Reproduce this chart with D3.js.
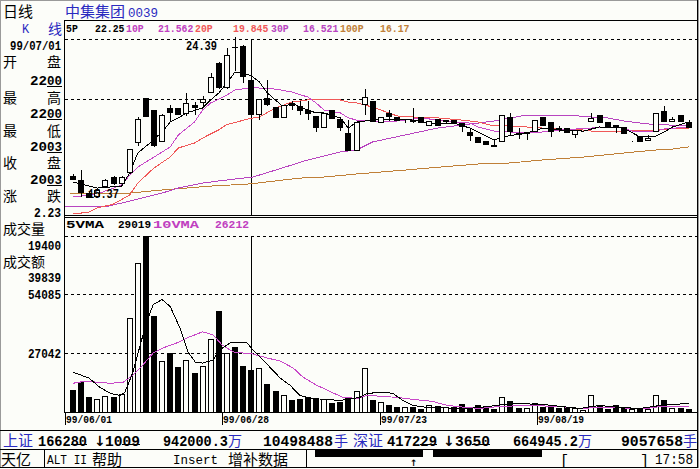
<!DOCTYPE html>
<html><head><meta charset="utf-8">
<script src="https://cdn.jsdelivr.net/npm/d3@7"></script>
<style>
html,body{margin:0;padding:0;background:#fcfdf9;}
svg{display:block;}
</style></head>
<body><svg id="c" width="700" height="469"></svg>
<script>
// ---------------- DATA ----------------
const opens  = [16.61,16.38,15.65,15.45,15.99,16.55,16.16,16.78,18.46,20.99,20.31,18.52,20.43,20.43,20.09,20.60,20.71,21.27,22.96,21.55,23.85,23.91,22.00,20.03,20.99,20.48,19.87,20.70,20.54,20.31,19.98,19.30,20.31,19.81,19.02,18.01,20.60,20.82,19.58,20.15,19.92,19.62,19.75,19.92,19.42,19.81,19.65,19.75,19.58,19.08,18.80,18.57,18.35,18.52,19.92,19.02,18.97,19.08,19.92,19.64,19.30,19.30,18.91,19.13,19.64,20.03,19.64,19.47,19.36,18.57,18.85,18.57,19.08,20.26,19.64,20.03,19.64];
const highs  = [16.70,16.94,15.70,15.90,16.45,16.60,16.60,18.12,19.90,20.99,20.31,20.10,20.60,20.43,21.27,20.76,21.10,22.40,23.00,23.80,24.39,23.95,22.00,20.93,22.00,20.48,20.60,20.80,20.80,20.80,19.98,20.15,20.31,19.81,19.75,19.64,21.50,20.82,19.92,20.30,19.92,19.75,20.40,19.92,19.70,19.81,19.75,19.75,19.58,19.30,18.80,18.57,18.63,20.03,20.15,19.30,19.08,19.75,19.92,19.64,19.42,19.30,19.19,19.14,20.15,20.03,19.64,19.47,19.36,18.57,18.85,18.91,20.15,20.54,19.92,20.03,19.75];
const lows   = [16.38,15.43,15.37,15.40,15.95,16.10,16.10,16.70,18.29,19.92,18.24,18.52,19.64,20.03,20.00,20.03,20.48,21.27,21.50,21.50,22.50,21.85,20.03,19.75,20.55,19.87,19.87,20.30,20.06,19.75,19.08,19.30,19.81,19.13,18.01,18.01,20.03,19.64,19.58,19.70,19.70,19.60,19.60,19.58,19.42,19.42,19.60,19.58,19.10,18.55,18.46,18.35,18.24,18.52,18.91,18.69,18.63,19.08,19.42,18.80,19.08,19.02,18.74,19.13,19.64,19.58,19.30,19.02,18.97,18.57,18.52,18.57,19.08,19.64,19.64,19.64,19.30];
const closes = [16.38,15.65,15.37,15.80,16.38,16.16,16.55,18.12,19.81,19.92,18.29,20.03,20.15,20.03,20.71,20.43,20.93,22.17,21.55,23.40,23.80,22.17,20.03,20.93,20.60,19.87,20.60,20.54,20.26,20.09,19.30,20.15,19.81,19.30,18.01,19.64,21.04,19.64,19.92,19.92,19.70,19.70,19.64,19.58,19.70,19.42,19.75,19.58,19.36,18.85,18.46,18.35,18.24,20.03,19.08,18.91,19.08,19.75,19.42,19.08,19.19,19.02,19.19,19.14,19.87,19.58,19.30,19.36,18.97,18.57,18.52,18.74,20.15,19.64,19.81,19.64,19.30];
const volumes = [10020,13660,6670,5600,6990,6670,8250,43200,68850,81127,44290,23310,26900,20650,23780,17860,20980,33570,46620,27200,29840,20980,19400,20050,12590,9320,7460,5130,5590,6530,6060,5590,3730,4200,6530,9320,20050,5130,4200,2800,1860,1860,1860,930,2800,2330,1860,1860,3260,1860,2800,1860,930,6530,4660,1400,1400,3730,1860,2330,1400,1860,1400,470,7460,2800,930,2800,1860,930,930,930,7460,5130,1400,1400,930];

// moving averages: [candle index, value]
const ma5 = [[0,16.27],[3,15.93],[6,16.04],[7,16.78],[8,17.90],[9.5,18.46],[11,19.08],[12,19.64],[13,19.87],[14,20.15],[16,20.43],[17,20.88],[18,21.27],[19,21.83],[20,22.45],[22,22.25],[23,21.89],[24,21.27],[26,20.48],[27,20.71],[28,20.48],[30,20.15],[31,20.15],[33,19.87],[34,19.30],[35,19.64],[37,19.75],[39,19.81],[42,19.75],[44,19.58],[47,19.58],[49,19.30],[50,19.08],[52,18.63],[53,18.80],[56,19.02],[58,19.30],[60,19.19],[63,19.13],[65,19.36],[68,19.30],[70,18.80],[72,18.85],[73,19.08],[74,19.36],[76,19.64]];
const ma10 = [[0,15.43],[3,15.60],[5,15.93],[6,16.10],[7,16.66],[8,17.11],[10,17.67],[12,18.24],[13,18.91],[15,19.64],[16,20.31],[17,20.71],[19,21.16],[20,21.44],[22,21.56],[23,21.55],[25,21.49],[27,21.33],[29,21.04],[30,20.71],[31,20.31],[33,20.15],[34,19.87],[35,19.75],[37,19.70],[39,19.64],[41,19.75],[43,19.87],[45,19.75],[47,19.64],[49,19.58],[50,19.36],[52,19.13],[54,19.08],[56,19.02],[58,19.08],[60,19.19],[64,19.30],[66,19.36],[68,19.30],[69,19.13],[72,19.13],[73,19.25],[76,19.36]];
const ma20 = [[0,14.47],[2,14.58],[3,14.81],[5,15.03],[7,15.54],[8,16.21],[10,17.06],[12,17.67],[13,18.18],[15,18.46],[16,18.74],[18,19.20],[19,19.50],[22,19.85],[23,19.92],[25,20.43],[27,20.76],[29,20.88],[33,20.88],[34,20.76],[35,20.71],[37,20.48],[39,20.15],[40,19.98],[42,19.92],[45,19.87],[48,19.75],[50,19.64],[52,19.42],[54,19.42],[56,19.36],[58,19.30],[60,19.25],[63,19.19],[64,19.13],[68,19.13],[70,19.19],[72,19.19],[75,19.30],[76,19.30]];
const ma30 = [[-1,14.87],[4,14.87],[6,15.09],[8,15.31],[11,15.65],[13,15.93],[16,16.21],[18,16.33],[21,16.49],[22,16.52],[25,16.94],[29,17.51],[33,17.96],[35,18.07],[37,18.52],[41,18.91],[45,19.30],[48,19.47],[50,19.58],[52,19.70],[56,20.03],[61,20.03],[64,19.92],[66,19.87],[68,19.70],[71,19.53],[76,19.42]];
const ma100 = [[-0.4,15.60],[7,15.65],[11,15.82],[14,15.93],[17,16.04],[21,16.14],[22,16.17],[25,16.33],[28,16.49],[31,16.55],[35,16.72],[38,16.83],[41,16.94],[44,17.06],[47,17.17],[50,17.28],[54,17.34],[58,17.51],[63,17.67],[68,17.90],[72,18.07],[74,18.12],[76,18.24]];
const vma5 = [[0,18180],[2,15390],[3.3,11190],[4.6,8390],[5.8,7460],[6.4,8860],[7.4,18180],[8.3,30770],[9.1,41490],[9.9,49420],[11,51750],[12,48490],[13.2,38690],[14.2,27510],[15.1,22840],[16,22380],[17.3,23780],[18.1,28440],[19.4,31700],[21.5,31700],[22.2,28440],[23.1,25170],[24.3,20510],[25.6,15380],[26.8,12120],[28,7460],[29.3,6060],[33,5130],[35.4,6530],[36.3,8390],[38.3,8860],[39.5,8390],[40.7,5130],[42,2800],[43.7,1860],[48.6,1400],[50.2,1860],[53.3,3260],[54.3,3730],[58,3260],[61.4,1860],[62.6,1400],[65,2800],[67.5,1860],[70,1400],[72.5,2800],[76,3730]];
const vma10 = [[0,13050],[1.5,13990],[4.6,13050],[6.2,13520],[7.4,16780],[8.6,21450],[9.9,27040],[11.1,29370],[12.8,31700],[14.4,34500],[16,36830],[17.3,35430],[18.4,30770],[19.8,27510],[22.2,26570],[24,24710],[25.6,23310],[27.2,20050],[28.4,15850],[30.1,12120],[31.7,9320],[33.3,6530],[35.1,6060],[36.3,7460],[40,6530],[42,5590],[44.4,4660],[46.2,2800],[48.6,1860],[50.2,1400],[52.7,2330],[56,2800],[60.1,2330],[62.6,1400],[65,1860],[70.9,1400],[72.5,2330],[76,2330]];

const priceGrid = [24.30, 20.93];
const volGrid = [81127, 54085, 27042];
const volGridLabels = ["54085", "27042"];
const dateTickIdx = [0, 19, 38, 57];
const dateTickLabels = ["99/06/01", "99/06/28", "99/07/23", "99/08/19"];
const cursorIdx = 22;
const legendP = [["5P","22.25","#000"],["10P","21.562","#c040c0"],["20P","19.845","#f05858"],["30P","16.521","#b844c0"],["100P","16.17","#c08038"]];

// ---------------- DRAW ----------------
const W=700,H=469,BG="#fcfdf9";
const svg=d3.select("#c");
svg.append("rect").attr("width",W).attr("height",H).attr("fill",BG);
const MONO="'Liberation Mono','DejaVu Sans Mono',monospace";
const CJK="'Noto Sans CJK SC','Noto Sans',sans-serif";
function txt(x,y,s,o={}){
  const t=svg.append("text").attr("x",x).attr("y",y).text(s)
    .attr("font-family",o.f||MONO).attr("font-size",o.s||12)
    .attr("font-weight",o.w||"bold").attr("fill",o.c||"#000")
    .attr("text-anchor",o.a||"start");
  if(o.len){t.attr("textLength",o.len).attr("lengthAdjust","spacingAndGlyphs");}
  return t;
}
function hline(x1,x2,y,c="#000",dash=null){
  const l=svg.append("line").attr("x1",x1).attr("x2",x2).attr("y1",y+0.5).attr("y2",y+0.5)
   .attr("stroke",c).attr("stroke-width",1).attr("shape-rendering","crispEdges");
  if(dash) l.attr("stroke-dasharray",dash);
  return l;
}
function vline(x,y1,y2,c="#000"){
  return svg.append("line").attr("x1",x+0.5).attr("x2",x+0.5).attr("y1",y1).attr("y2",y2)
   .attr("stroke",c).attr("stroke-width",1).attr("shape-rendering","crispEdges");
}

const x = d3.scaleLinear().domain([0,76]).range([73,688.6]);
const yP = d3.scaleLinear().domain([14.416,25.315]).range([215,21]);
const yV = d3.scaleLinear().domain([0,81127]).range([411.5,236]);
const dateX = d3.scaleLinear().domain([0,57]).range([65,537]);

// frame
svg.append("rect").attr("x",0.5).attr("y",0.5).attr("width",698).attr("height",467)
  .attr("fill","none").attr("stroke","#9a9a9a").attr("shape-rendering","crispEdges");
vline(697,0,468);
hline(64,697,20);
vline(64,20,412);
hline(64,697,215); hline(64,697,217);
hline(64,697,412);
hline(0,697,430);
hline(0,697,449);
hline(0,697,467);
vline(44,449,467); vline(306,449,467);

// clip paths
const defs=svg.append("defs");
defs.append("clipPath").attr("id","cp").append("rect").attr("x",65).attr("y",21).attr("width",632).attr("height",194);
defs.append("clipPath").attr("id","cv").append("rect").attr("x",65).attr("y",218).attr("width",632).attr("height",194);

// grids
priceGrid.forEach(p=>hline(65,697,Math.round(yP(p)),"#000","3,3"));
volGrid.forEach(v=>hline(65,697,Math.round(yV(v)),"#000","3,3"));

// cursor
const cx=Math.round(x(cursorIdx));
vline(cx, Math.round(yP(priceGrid[0])), 215);
vline(cx, Math.round(yV(volGrid[0])), 412);

// MA lines
const gP=svg.append("g").attr("clip-path","url(#cp)");
const lineP=d3.line().x(d=>x(d[0])).y(d=>yP(d[1]));
[[ma100,"#c08038"],[ma30,"#b844c0"],[ma20,"#f05858"],[ma10,"#c848c8"],[ma5,"#000"]].forEach(([d,c])=>{
  gP.append("path").attr("d",lineP(d)).attr("fill","none").attr("stroke",c).attr("stroke-width",1)
   .attr("shape-rendering","crispEdges");
});

// candles
const cg=svg.append("g").attr("shape-rendering","crispEdges");
d3.range(opens.length).forEach(i=>{
  const o=opens[i],h=highs[i],l=lows[i],c=closes[i];
  const L=Math.round(x(i))-3;
  const up=c>=o;
  const top=Math.round(yP(Math.max(o,c))), bot=Math.round(yP(Math.min(o,c)));
  const yh=Math.round(yP(h)), yl=Math.round(yP(l));
  cg.append("rect").attr("x",L+3).attr("y",yh).attr("width",1).attr("height",Math.max(1,yl-yh)).attr("fill","#000");
  if(up){
    cg.append("rect").attr("x",L+0.5).attr("y",top+0.5).attr("width",5).attr("height",Math.max(0,bot-top-1))
      .attr("fill",BG).attr("stroke","#000");
  } else {
    cg.append("rect").attr("x",L).attr("y",top).attr("width",6).attr("height",Math.max(1,bot-top)).attr("fill","#000");
  }
});

// price labels at extremes
txt(217,50,"24.39",{a:"end",len:31,s:12});
txt(88,198,"15.37",{len:31,s:12});

// volume bars
const vg=svg.append("g").attr("shape-rendering","crispEdges");
volumes.forEach((v,i)=>{
  const L=Math.round(x(i))-3;
  const top=Math.round(yV(v));
  const up=closes[i]>=opens[i];
  if(up){
    vg.append("rect").attr("x",L+0.5).attr("y",top+0.5).attr("width",5).attr("height",Math.max(0,412-top-0.5))
      .attr("fill",BG).attr("stroke","#000");
  } else {
    vg.append("rect").attr("x",L).attr("y",top).attr("width",6).attr("height",412-top).attr("fill","#000");
  }
});
const gV=svg.append("g").attr("clip-path","url(#cv)");
const lineV=d3.line().x(d=>x(d[0])).y(d=>yV(d[1]));
gV.append("path").attr("d",lineV(vma10)).attr("fill","none").attr("stroke","#c848c8").attr("shape-rendering","crispEdges");
gV.append("path").attr("d",lineV(vma5)).attr("fill","none").attr("stroke","#000").attr("shape-rendering","crispEdges");

// date axis
dateTickIdx.forEach((d,k)=>{
  const xx=Math.round(dateX(d));
  vline(xx,412,425);
  txt(xx+1,423,dateTickLabels[k],{s:11,len:46});
});

// legend price
const lpos=[[66,95],[126,158],[195,233],[271,303],[340,380]];
legendP.forEach((d,k)=>{
  txt(lpos[k][0],32,d[0],{c:d[2],s:11,len:d[0].length*5.9});
  txt(lpos[k][1],32,d[1],{c:d[2],s:11,len:d[1].length*5.9});
});
// legend volume
txt(66,228,"5VMA",{s:11,len:38});
txt(118,228,"29019",{s:11,len:33});
txt(153,228,"10VMA",{s:11,len:46,c:"#c040c0"});
txt(215,228,"26212",{s:11,len:34,c:"#c040c0"});

// header
txt(3,17,"日线",{f:CJK,s:15,w:"normal"});
txt(65,17,"中集集团",{f:CJK,s:15,w:"normal",c:"#2a2ac0"});
txt(128,17,"0039",{s:13,w:"normal",c:"#2a2ac0",len:30});
txt(22,33,"K",{s:12,w:"normal",c:"#2a2ac0"});
txt(48,34,"线",{f:CJK,s:14,w:"normal",c:"#2a2ac0"});

// left info panel
txt(61,50,"99/07/01",{a:"end",s:12,len:51});
const infoRows=[["开","盘",67],["最","高",103],["最","低",136],["收","盘",168],["涨","跌",201]];
infoRows.forEach(r=>{txt(3,r[2],r[0],{f:CJK,s:14,w:"normal"});txt(47,r[2],r[1],{f:CJK,s:14,w:"normal"});});
const infoVals=[["22","00",85],["22","00",118],["20","03",151],["20","03",184]];
infoVals.forEach(r=>{txt(30,r[2],r[0],{s:12,len:17});txt(47,r[2],r[1],{s:12,len:15});hline(47,62,r[2]+1);});
txt(61,217,"2.23",{a:"end",s:12,len:27});
txt(3,234,"成交量",{f:CJK,s:14,w:"normal"});
txt(61,250,"19400",{a:"end",s:12,len:33});
txt(3,267,"成交额",{f:CJK,s:14,w:"normal"});
txt(61,282,"39839",{a:"end",s:12,len:33});
volGridLabels.forEach((s,k)=>txt(61,Math.round(yV(volGrid[k+1]))+5,s,{a:"end",s:12,len:33}));

// status row
const BL="#2a2ac0";
txt(3,446,"上证",{f:CJK,s:15,w:"normal",c:BL});
txt(38,446,"166280",{s:14,len:49}); hline(71,87,444);
txt(94,446,"↓",{f:"'DejaVu Sans'",s:14});
txt(105,446,"1009",{s:14,len:35}); hline(122,140,444);
txt(163,446,"942000.3",{s:14,len:65});
txt(228,446,"万",{f:CJK,s:14,w:"normal",c:BL});
txt(263,446,"10498488",{s:14,len:70});
txt(334,446,"手",{f:CJK,s:14,w:"normal",c:BL});
txt(353,446,"深证",{f:CJK,s:15,w:"normal",c:BL});
txt(387,446,"417229",{s:14,len:50}); hline(420,437,444);
txt(443,446,"↓",{f:"'DejaVu Sans'",s:14});
txt(455,446,"3650",{s:14,len:35}); hline(472,490,444);
txt(513,446,"664945.2",{s:14,len:65});
txt(578,446,"万",{f:CJK,s:14,w:"normal",c:BL});
txt(621,446,"9057658",{s:14,len:62});
txt(683,446,"手",{f:CJK,s:14,w:"normal",c:BL});

// bottom row
txt(1,465,"天亿",{f:CJK,s:15,w:"normal"});
txt(47,464,"ALT II",{s:13,w:"normal",len:40});
txt(92,465,"帮助",{f:CJK,s:15,w:"normal"});
txt(173,464,"Insert",{s:13,w:"normal",len:45});
txt(228,465,"增补数据",{f:CJK,s:15,w:"normal"});
svg.append("rect").attr("x",315).attr("y",450).attr("width",108).attr("height",7).attr("fill","#000");
svg.append("rect").attr("x",433).attr("y",450).attr("width",109).attr("height",7).attr("fill","#000");
txt(410,466,"↑",{f:"'DejaVu Sans'",s:9});
txt(560,465,"[",{s:15,w:"normal"});
txt(640,465,"]",{s:15,w:"normal"});
txt(655,464,"17:58",{s:14,w:"normal",len:38});
</script>
</body></html>
